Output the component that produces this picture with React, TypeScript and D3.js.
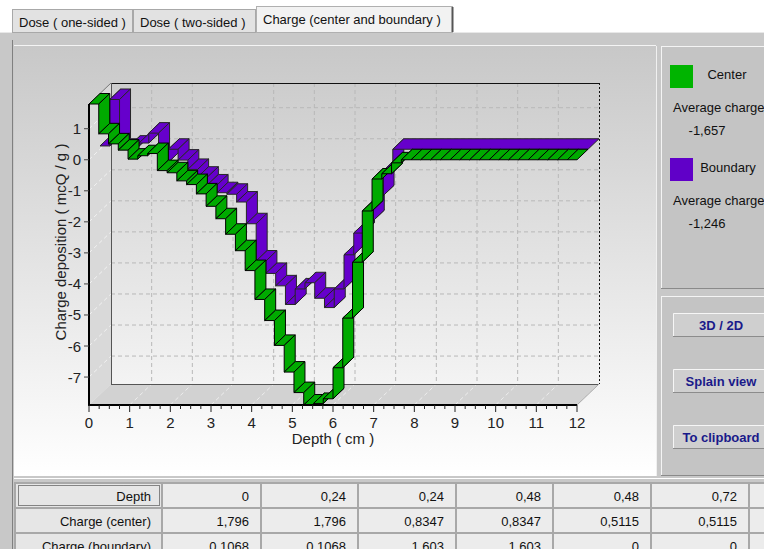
import React from "react";
import * as d3 from "d3";

// ---- data ----
const depthEdges = [
  0, 0.24, 0.48, 0.72, 0.96, 1.2, 1.44, 1.68, 1.92, 2.16, 2.4, 2.64, 2.88, 3.12, 3.36, 3.6, 3.84,
  4.08, 4.32, 4.56, 4.8, 5.04, 5.28, 5.52, 5.76, 6, 6.24, 6.48, 6.72, 6.96, 7.2, 7.44, 7.68, 7.92,
  8.16, 8.4, 8.64, 8.88, 9.12, 9.36, 9.6, 9.84, 10.08, 10.32, 10.56, 10.8, 11.04, 11.28, 11.52,
  11.76, 12,
];
const centerCharge = [
  1.796, 0.8347, 0.5115, 0.31, 0.02, 0.13, 0.2, -0.35, -0.42, -0.68,
  -0.8, -1.1, -1.5, -1.9, -2.4, -2.93, -3.57, -4.5, -5.18, -5.98,
  -6.84, -7.5, -7.9, -7.85, -7.7, -6.7, -5.1, -3.3, -1.65, -0.62,
  -0.45, -0.1, 0, 0, 0, 0, 0, 0, 0, 0,
  0, 0, 0, 0, 0, 0, 0, 0, 0, 0,
];
const boundaryCharge = [
  0.1068, 1.603, 0, 0.1, 0.2, 0.52, -0.42, 0, -0.35, -0.65,
  -0.9, -1.15, -1.4, -1.45, -1.7, -2.4, -3.6, -4.0, -4.4, -5.0,
  -4.5, -4.3, -4.8, -5.1, -4.5, -3.4, -2.7, -2.3, -1.5, -0.7,
  0, 0, 0, 0, 0, 0, 0, 0, 0, 0,
  0, 0, 0, 0, 0, 0, 0, 0, 0, 0,
];
const seriesNames = ["Center", "Boundary"];
const seriesColors = ["#00aa00", "#6600cc"];
const legendSwatch = ["#00b400", "#6000c8"];
const averageLabels = ["-1,657", "-1,246"];
const xTicks = [0, 1, 2, 3, 4, 5, 6, 7, 8, 9, 10, 11, 12];
const yTicks = [-7, -6, -5, -4, -3, -2, -1, 0, 1];
const tabLabels = ["Dose ( one-sided )", "Dose ( two-sided )", "Charge (center and boundary )"];
const buttonLabels = ["3D / 2D", "Splain view", "To clipboard"];
const rowLabels = ["Depth", "Charge (center)", "Charge (boundary)"];
const xTitle = "Depth ( cm )";
const yTitle = "Charge deposition ( mcQ / g )";

const fmt = (v: number) => String(v).replace(".", ",");
const FONT = '"Liberation Sans", Arial, sans-serif';

export default function App() {
  const x = d3.scaleLinear().domain([0, 12]).range([89, 577]);
  const all = centerCharge.concat(boundaryCharge);
  const [ymin, ymax] = d3.extent(all) as [number, number];
  const y = d3.scaleLinear().domain([ymin, ymax]).range([405, 104]);
  const DX = 22, DY = -21;
  const x0 = x(0), x1 = x(12), yb = y(ymin), yt = y(ymax);

  const pt = (d: number, v: number, z: number) => `${x(d) + z * DX},${y(v) + z * DY}`;

  const series = [
    { values: boundaryCharge, color: seriesColors[1], z0: 0.5, z1: 1, merge: true, stroke: "#262626" },
    { values: centerCharge, color: seriesColors[0], z0: 0, z1: 0.5, merge: false, stroke: "#000" },
  ];

  const faces: { d: string; fill: string; stroke: string }[] = [];
  series.forEach((s) => {
    const runs: { a: number; b: number; v: number }[] = [];
    s.values.forEach((v, i) => {
      const last = runs[runs.length - 1];
      if (s.merge && last && last.v === v) last.b = depthEdges[i + 1];
      else runs.push({ a: depthEdges[i], b: depthEdges[i + 1], v });
    });
    runs.forEach((r, k) => {
      if (k > 0 && runs[k - 1].v !== r.v) {
        const pv = runs[k - 1].v;
        faces.push({
          d: `M${pt(r.a, pv, s.z0)}L${pt(r.a, r.v, s.z0)}L${pt(r.a, r.v, s.z1)}L${pt(r.a, pv, s.z1)}Z`,
          fill: s.color, stroke: s.stroke,
        });
      }
      faces.push({
        d: `M${pt(r.a, r.v, s.z0)}L${pt(r.b, r.v, s.z0)}L${pt(r.b, r.v, s.z1)}L${pt(r.a, r.v, s.z1)}Z`,
        fill: s.color, stroke: s.stroke,
      });
    });
  });

  const minorX = d3.range(0, 12.001, 0.25);

  const colEdges = [15, 162, 261, 358, 456, 553, 651, 749, 846];
  const rowEdges = [483, 508, 533, 558];
  const tableRows = [
    (j: number) => fmt(depthEdges[Math.ceil(j / 2)]),
    (j: number) => fmt(centerCharge[Math.floor(j / 2)]),
    (j: number) => fmt(boundaryCharge[Math.floor(j / 2)]),
  ];

  const tabs = [
    { x: 12, w: 121, sel: false },
    { x: 133, w: 123, sel: false },
    { x: 256, w: 197, sel: true },
  ];

  return (
    <svg width={764} height={549} style={{ position: "absolute", left: 0, top: 0, fontFamily: FONT }}>
      <defs>
        <linearGradient id="panelGrad" x1="0" y1="0" x2="0" y2="1">
          <stop offset="0" stopColor="#c8c8c8" />
          <stop offset="1" stopColor="#ffffff" />
        </linearGradient>
      </defs>
      {/* page background */}
      <rect x={0} y={0} width={764} height={549} fill="#c8c8c8" />
      <rect x={0} y={0} width={764} height={32} fill="#ffffff" />
      <line x1={0} x2={764} y1={32.5} y2={32.5} stroke="#e8e8e8" />
      {/* tabs */}
      {tabs.map((t, i) => (
        <g key={i}>
          <rect x={t.x + 0.5} y={t.sel ? 6.5 : 9.5} width={t.w - 1} height={t.sel ? 26 : 23}
            fill={t.sel ? "#f2f2f2" : "#e2e2e2"} stroke={t.sel ? "#b0b0b0" : "#a8a8a8"} />
          {t.sel && <line x1={t.x + t.w - 0.5} x2={t.x + t.w - 0.5} y1={7} y2={32} stroke="#555" strokeWidth={2} />}
          <text x={t.x + 7} y={t.sel ? 24 : 27} fontSize={13} fill="#111">{tabLabels[i]}</text>
        </g>
      ))}
      {/* left frame line */}
      <line x1={12.5} x2={12.5} y1={40} y2={549} stroke="#808080" />
      {/* chart panel */}
      <rect x={14} y={46} width={642} height={430} fill="url(#panelGrad)" />
      <line x1={14} x2={656} y1={45.5} y2={45.5} stroke="#f4f4f4" />
      <line x1={656.5} x2={656.5} y1={46} y2={476} stroke="#f0f0f0" />

      {/* left wall and floor */}
      <path d={`M${x0},${yt}L${x0 + DX},${yt + DY}L${x0 + DX},${yb + DY}L${x0},${yb}Z`} fill="#d9d9d9" />
      <path d={`M${x0},${yb}L${x1},${yb}L${x1 + DX},${yb + DY}L${x0 + DX},${yb + DY}Z`} fill="#d2d2d2" />
      {/* grid */}
      {xTicks.slice(1, -1).map((t) => (
        <line key={"gx" + t} x1={x(t) + DX} x2={x(t) + DX} y1={yt + DY} y2={yb + DY}
          stroke="#b8b8b8" strokeDasharray="4,3" />
      ))}
      {yTicks.map((t) => (
        <line key={"gy" + t} x1={x0 + DX} x2={x1 + DX} y1={y(t) + DY} y2={y(t) + DY}
          stroke="#b8b8b8" strokeDasharray="4,3" />
      ))}
      {yTicks.map((t) => (
        <line key={"lw" + t} x1={x0} x2={x0 + DX} y1={y(t)} y2={y(t) + DY}
          stroke="#f2f2f2" strokeDasharray="4,3" />
      ))}
      {xTicks.slice(1).map((t) => (
        <line key={"fl" + t} x1={x(t)} x2={x(t) + DX} y1={yb} y2={yb + DY}
          stroke="#eeeeee" strokeDasharray="4,3" />
      ))}
      {/* back wall edges */}
      <line x1={x0 + DX} x2={x1 + DX} y1={yt + DY + 0.5} y2={yt + DY + 0.5} stroke="#111" />
      <line x1={x1 + DX + 0.5} x2={x1 + DX + 0.5} y1={yt + DY} y2={yb + DY} stroke="#111" strokeDasharray="2,2" />
      <line x1={x0 + DX + 0.5} x2={x0 + DX + 0.5} y1={yt + DY} y2={yb + DY} stroke="#555" />
      <line x1={x0 + DX} x2={x1 + DX} y1={yb + DY + 0.5} y2={yb + DY + 0.5} stroke="#555" />
      <line x1={x0} x2={x0 + DX} y1={yt} y2={yt + DY} stroke="#777" />
      <line x1={x1} x2={x1 + DX} y1={yb} y2={yb + DY} stroke="#aaa" />

      {/* series ribbons */}
      {faces.map((f, i) => (
        <path key={i} d={f.d} fill={f.fill} stroke={f.stroke} strokeWidth={1} strokeLinejoin="round" />
      ))}

      {/* axes */}
      <line x1={x0} x2={x0} y1={yt} y2={yb + 1} stroke="#000" strokeWidth={2} />
      <line x1={x0 - 1} x2={x1} y1={yb} y2={yb} stroke="#000" strokeWidth={2} />
      {yTicks.map((t) => (
        <g key={"yt" + t}>
          <line x1={x0 - 5} x2={x0} y1={y(t)} y2={y(t)} stroke="#444" />
          <text x={81} y={y(t)} fontSize={15} textAnchor="end" dominantBaseline="central" fill="#222">{t}</text>
        </g>
      ))}
      {minorX.map((t) => (
        <line key={"mx" + t} x1={x(t)} x2={x(t)} y1={yb} y2={yb + (t % 1 === 0 ? 7 : 4)} stroke="#222" />
      ))}
      {xTicks.map((t) => (
        <text key={"xt" + t} x={x(t)} y={422} fontSize={15} textAnchor="middle" dominantBaseline="central" fill="#222">{t}</text>
      ))}
      <text x={(x0 + x1) / 2} y={438} fontSize={15} textAnchor="middle" dominantBaseline="central" fill="#222">{xTitle}</text>
      <text x={60} y={242} fontSize={15} textAnchor="middle" dominantBaseline="central" fill="#222"
        transform="rotate(-90,60,242)">{yTitle}</text>

      {/* legend panel */}
      <rect x={661} y={46} width={103} height={242} fill="#c4c4c4" />
      <line x1={661.5} x2={661.5} y1={46} y2={288} stroke="#f4f4f4" />
      <line x1={661} x2={764} y1={46.5} y2={46.5} stroke="#f4f4f4" />
      <line x1={661} x2={764} y1={288.5} y2={288.5} stroke="#8a8a8a" />
      {seriesNames.map((n, i) => (
        <g key={n} transform={`translate(0,${i * 93})`}>
          <rect x={670} y={65} width={23} height={23} fill={legendSwatch[i]} />
          <text x={i === 0 ? 727 : 728} y={74} fontSize={13} textAnchor="middle" dominantBaseline="central" fill="#111">{n}</text>
          <text x={673} y={107} fontSize={13} dominantBaseline="central" fill="#111">Average charge</text>
          <text x={707} y={130} fontSize={13} textAnchor="middle" dominantBaseline="central" fill="#111">{averageLabels[i]}</text>
        </g>
      ))}

      {/* buttons panel */}
      <rect x={661} y={296} width={103} height={180} fill="#c4c4c4" />
      <line x1={661.5} x2={661.5} y1={296} y2={476} stroke="#f4f4f4" />
      <line x1={661} x2={764} y1={296.5} y2={296.5} stroke="#f4f4f4" />
      <line x1={661} x2={764} y1={475.5} y2={475.5} stroke="#8a8a8a" />
      {buttonLabels.map((b, i) => (
        <g key={b}>
          <rect x={673} y={313 + i * 56} width={96} height={24} fill="#cfcfcf" />
          <path d={`M673.5,${336.5 + i * 56}V${313.5 + i * 56}H769`} fill="none" stroke="#f6f6f6" />
          <line x1={673} x2={769} y1={336.5 + i * 56} y2={336.5 + i * 56} stroke="#8c8c8c" />
          <text x={721} y={325 + i * 56} fontSize={13} fontWeight="bold" textAnchor="middle"
            dominantBaseline="central" fill="#1a1a8a">{b}</text>
        </g>
      ))}

      {/* table */}
      <line x1={14} x2={764} y1={478.5} y2={478.5} stroke="#ffffff" />
      <rect x={14} y={482} width={750} height={67} fill="#a8a8a8" />
      {rowLabels.map((r, ri) => (
        <g key={r}>
          <rect x={colEdges[0] + 1} y={rowEdges[ri] + 1} width={colEdges[1] - colEdges[0] - 2}
            height={rowEdges[ri + 1] - rowEdges[ri] - 2} fill="#e6e6e6" />
          <text x={colEdges[1] - 11} y={rowEdges[ri] + 13} fontSize={13} textAnchor="end"
            dominantBaseline="central" fill="#111">{r}</text>
          {colEdges.slice(1, -1).map((c, j) => (
            <g key={j}>
              <rect x={c + 1} y={rowEdges[ri] + 1} width={colEdges[j + 2] - c - 2}
                height={rowEdges[ri + 1] - rowEdges[ri] - 2} fill="#ececec" />
              <text x={colEdges[j + 2] - 12} y={rowEdges[ri] + 13} fontSize={13} textAnchor="end"
                dominantBaseline="central" fill="#111">{tableRows[ri](j)}</text>
            </g>
          ))}
        </g>
      ))}
      <rect x={18.5} y={485.5} width={141} height={20} fill="none" stroke="#222" strokeDasharray="1,1" />
    </svg>
  );
}
